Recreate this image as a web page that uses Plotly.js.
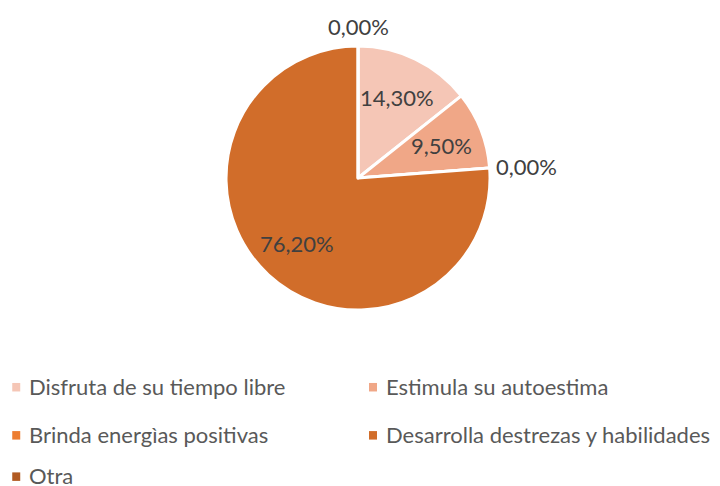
<!DOCTYPE html>
<html><head><meta charset="utf-8">
<script src="https://cdn.plot.ly/plotly-3.0.1.min.js"></script>
<style>html,body{margin:0;padding:0;background:#fff}#chart{width:720px;height:486px}</style>
</head><body><div id="chart"></div>
<script>
const labels = ["Disfruta de su tiempo libre", "Estimula su autoestima", "Brinda energìas positivas", "Desarrolla destrezas y habilidades", "Otra"];
const values = [14.3, 9.5, 0.0, 76.2, 0.0];
const colors = ["#F5C6B6", "#F0A787", "#ED7D31", "#D16D2A", "#B15A22"];

const FONT = "Lato, 'Open Sans', sans-serif";
const TXT = "#404040";
const LEGTXT = "#595959";
const W = 720, H = 486;

// pie geometry (paper fractions)
const dom = {x: [0.3139, 0.6806], y: [0.3621, 0.9053]};
const cx = (dom.x[0] + dom.x[1]) / 2, cy = (dom.y[0] + dom.y[1]) / 2;
const Rpx = Math.min((dom.x[1] - dom.x[0]) * W, (dom.y[1] - dom.y[0]) * H) / 2;

const total = values.reduce((a, b) => a + b, 0);
const fmtPct = v => (v / total * 100).toFixed(2).replace(".", ",") + "%";

const annotations = [];
const shapes = [];

// data labels: inside slices at their mid-angle, zero slices just outside the rim
let cum = 0;
values.forEach((v, i) => {
  const mid = (cum + v / 2) / total * 2 * Math.PI; // clockwise from 12 o'clock
  cum += v;
  const r = v > 0 ? 0.68 * Rpx : Rpx + 20;
  let x = cx + r * Math.sin(mid) / W;
  let y = cy + r * Math.cos(mid) / H;
  let xanchor = "center";
  if (v === 0 && Math.sin(mid) > 0.5) { xanchor = "left"; x = cx + (Rpx + 4) * Math.sin(mid) / W; }
  annotations.push({
    xref: "paper", yref: "paper", x: x, y: y,
    xanchor: xanchor, yanchor: "middle", showarrow: false,
    text: fmtPct(v), font: {family: FONT, size: 22, color: TXT}
  });
});

// legend laid out as two columns by annotations + square shapes
const legCols = [0.0378, 0.5333];
const legRows = [0.205, 0.106, 0.021];
labels.forEach((lab, i) => {
  const col = i % 2, row = Math.floor(i / 2);
  annotations.push({
    xref: "paper", yref: "paper", x: legCols[col], y: legRows[row],
    xanchor: "left", yanchor: "middle", showarrow: false,
    text: lab, font: {family: FONT, size: 22, color: LEGTXT}
  });
  shapes.push({
    type: "rect", xref: "paper", yref: "paper",
    x0: legCols[col] - 0.0208, x1: legCols[col] - 0.0097,
    y0: legRows[row] - 0.0105, y1: legRows[row] + 0.007,
    fillcolor: colors[i], line: {width: 0}
  });
});

const data = [{
  type: "pie",
  labels: labels,
  values: values,
  sort: false,
  direction: "clockwise",
  rotation: 0,
  marker: {colors: colors, line: {color: "#ffffff", width: 3}},
  textinfo: "none",
  textposition: "none",
  showlegend: false,
  hoverinfo: "label+percent",
  domain: dom
}];

const layout = {
  width: W, height: H,
  margin: {l: 0, r: 0, t: 0, b: 0},
  paper_bgcolor: "#ffffff",
  separators: ",.",
  showlegend: false,
  annotations: annotations,
  shapes: shapes,
  font: {family: FONT, color: TXT}
};

Plotly.newPlot("chart", data, layout, {displayModeBar: false, staticPlot: true});
</script></body></html>
